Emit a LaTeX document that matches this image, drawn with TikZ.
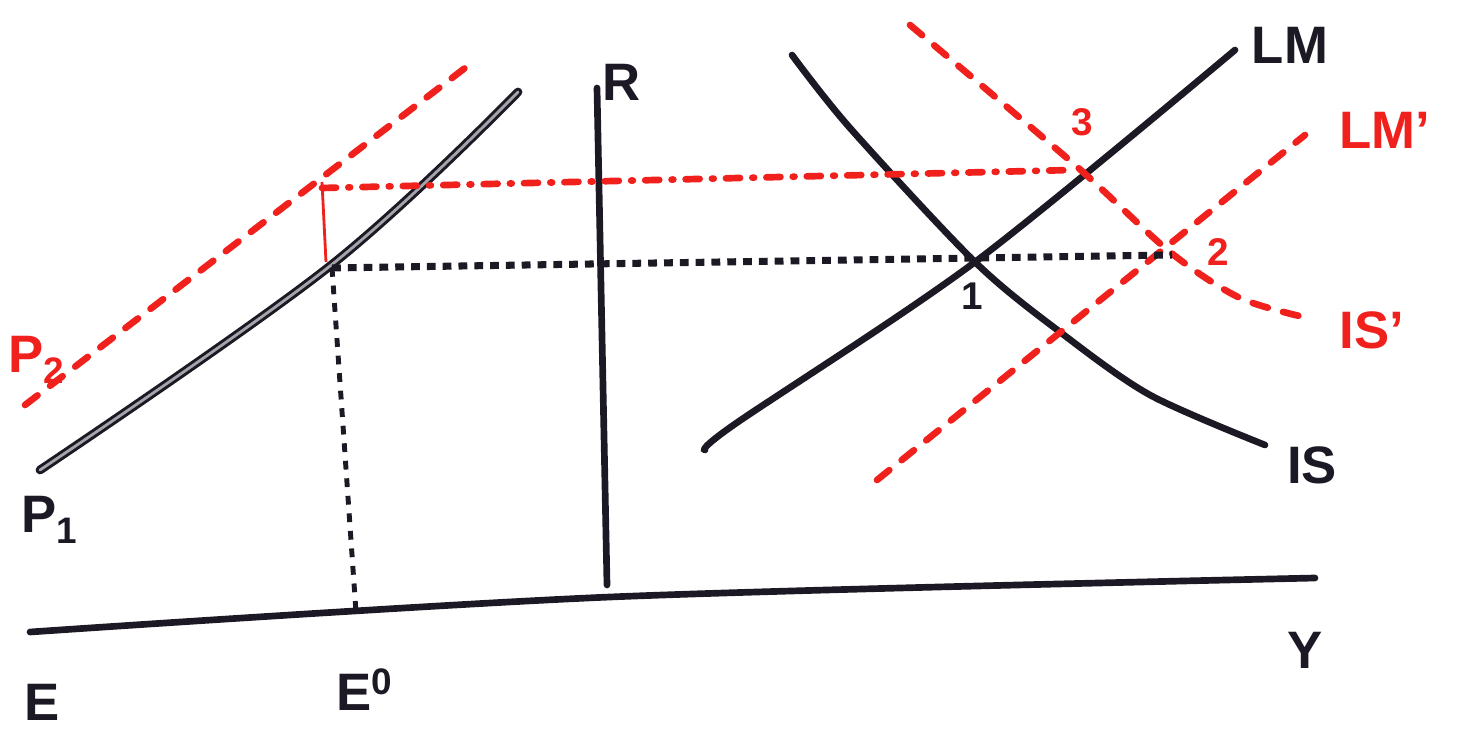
\documentclass[tikz,border=0pt]{standalone}
\usepackage{fontspec}
\setmainfont{Liberation Sans}
\usetikzlibrary{arrows.meta, positioning, calc}
\definecolor{inkblk}{HTML}{1C1924}
\definecolor{inkred}{HTML}{F0201C}
\definecolor{inkgray}{HTML}{A4A4AA}

\begin{document}
\begin{tikzpicture}[
  x=0.02cm, y=-0.02cm,
  blkline/.style={inkblk, line width=3.8pt, line cap=round},
  redline/.style={inkred, line width=3.8pt, line cap=round, dash pattern=on 9pt off 9pt},
  reddashdot/.style={inkred, line width=3.8pt, line cap=round, dash pattern=on 8pt off 7pt on 1pt off 7pt},
  blkdots/.style={inkblk, line width=4pt, dash pattern=on 5pt off 4pt},
  blkdash/.style={inkblk, line width=2.8pt, dash pattern=on 5pt off 5pt},
  lbl/.style={font=\fontsize{30}{30}\selectfont\bfseries, text=inkblk, inner sep=0pt},
  redlbl/.style={lbl, text=inkred},
]

% Frame
\useasboundingbox (0,0) rectangle (1460,729);

% ========================================
% Axes
% ========================================
\coordinate (eleft) at (30,632);
\coordinate (yright) at (1315,578);
\coordinate (rtop) at (597,88);
\coordinate (rfoot) at (607,585);
\draw[blkline, smooth, tension=0.5] plot coordinates {(30,632) (610,597) (1315,578)};
\draw[blkline] (rtop) -- (rfoot);

\node[lbl] (ylbl) at (1305,650) {Y};
\node[lbl] (rlbl) at (622,82) {R};
\node[lbl] (elbl) at (42,702) {E};
\node[lbl] (e0lbl) at (365,690) {E\textsuperscript{0}};

% ========================================
% Left panel: price lines
% ========================================
\draw[inkblk, line width=1.7pt, line cap=round, double=inkgray, double distance=1.6pt,
  smooth, tension=0.6]
  plot coordinates {(40,470) (330,266) (518,92)};
\node[lbl] (p1lbl) at (50,520) {P\textsubscript{1}};

\coordinate (p2a) at (25,405);
\coordinate (p2b) at (465,68);
\draw[redline] (p2a) -- (p2b);
\node[redlbl, anchor=west] (p2lbl) at (8,360) {P\textsubscript{2}};

% ========================================
% Right panel: IS-LM
% ========================================
\draw[blkline, smooth, tension=0.5]
  plot coordinates {(705,450) (735,424) (975,262) (1235,50)};
\node[lbl] (lmlbl) at (1290,45) {LM};

\draw[blkline, smooth, tension=0.5]
  plot coordinates {(792,55) (850,128) (975,262) (1060,332) (1150,395) (1265,445)};
\node[lbl] (islbl) at (1312,465) {IS};

\coordinate (lmpa) at (877,480);
\coordinate (lmpb) at (1305,135);
\draw[redline] (lmpa) -- (lmpb);
\node[redlbl] (lmplbl) at (1385,130) {LM'};

\draw[redline, smooth, tension=0.5]
  plot coordinates {(910,25) (1075,165) (1170,252) (1240,298) (1308,318)};
\node[redlbl] (isplbl) at (1372,330) {IS'};

% Equilibrium points
\node[lbl, font=\fontsize{22}{22}\selectfont\bfseries] (pt1) at (972,296) {1};
\node[redlbl, font=\fontsize{22}{22}\selectfont\bfseries] (pt2) at (1218,252) {2};
\node[redlbl, font=\fontsize{22}{22}\selectfont\bfseries] (pt3) at (1082,122) {3};

% ========================================
% Guide lines
% ========================================
\coordinate (ga) at (322,188);
\coordinate (gb) at (1072,170);
\draw[reddashdot] (ga) -- (gb);
\draw[inkred, line width=1.6pt] (322,182) -- (326,262);

\coordinate (ha) at (332,268);
\coordinate (hb) at (1172,255);
\draw[blkdots] (ha) -- (hb);
\coordinate (ve) at (356,612);
\draw[blkdash] (ha) -- (ve);

\end{tikzpicture}
\end{document}
